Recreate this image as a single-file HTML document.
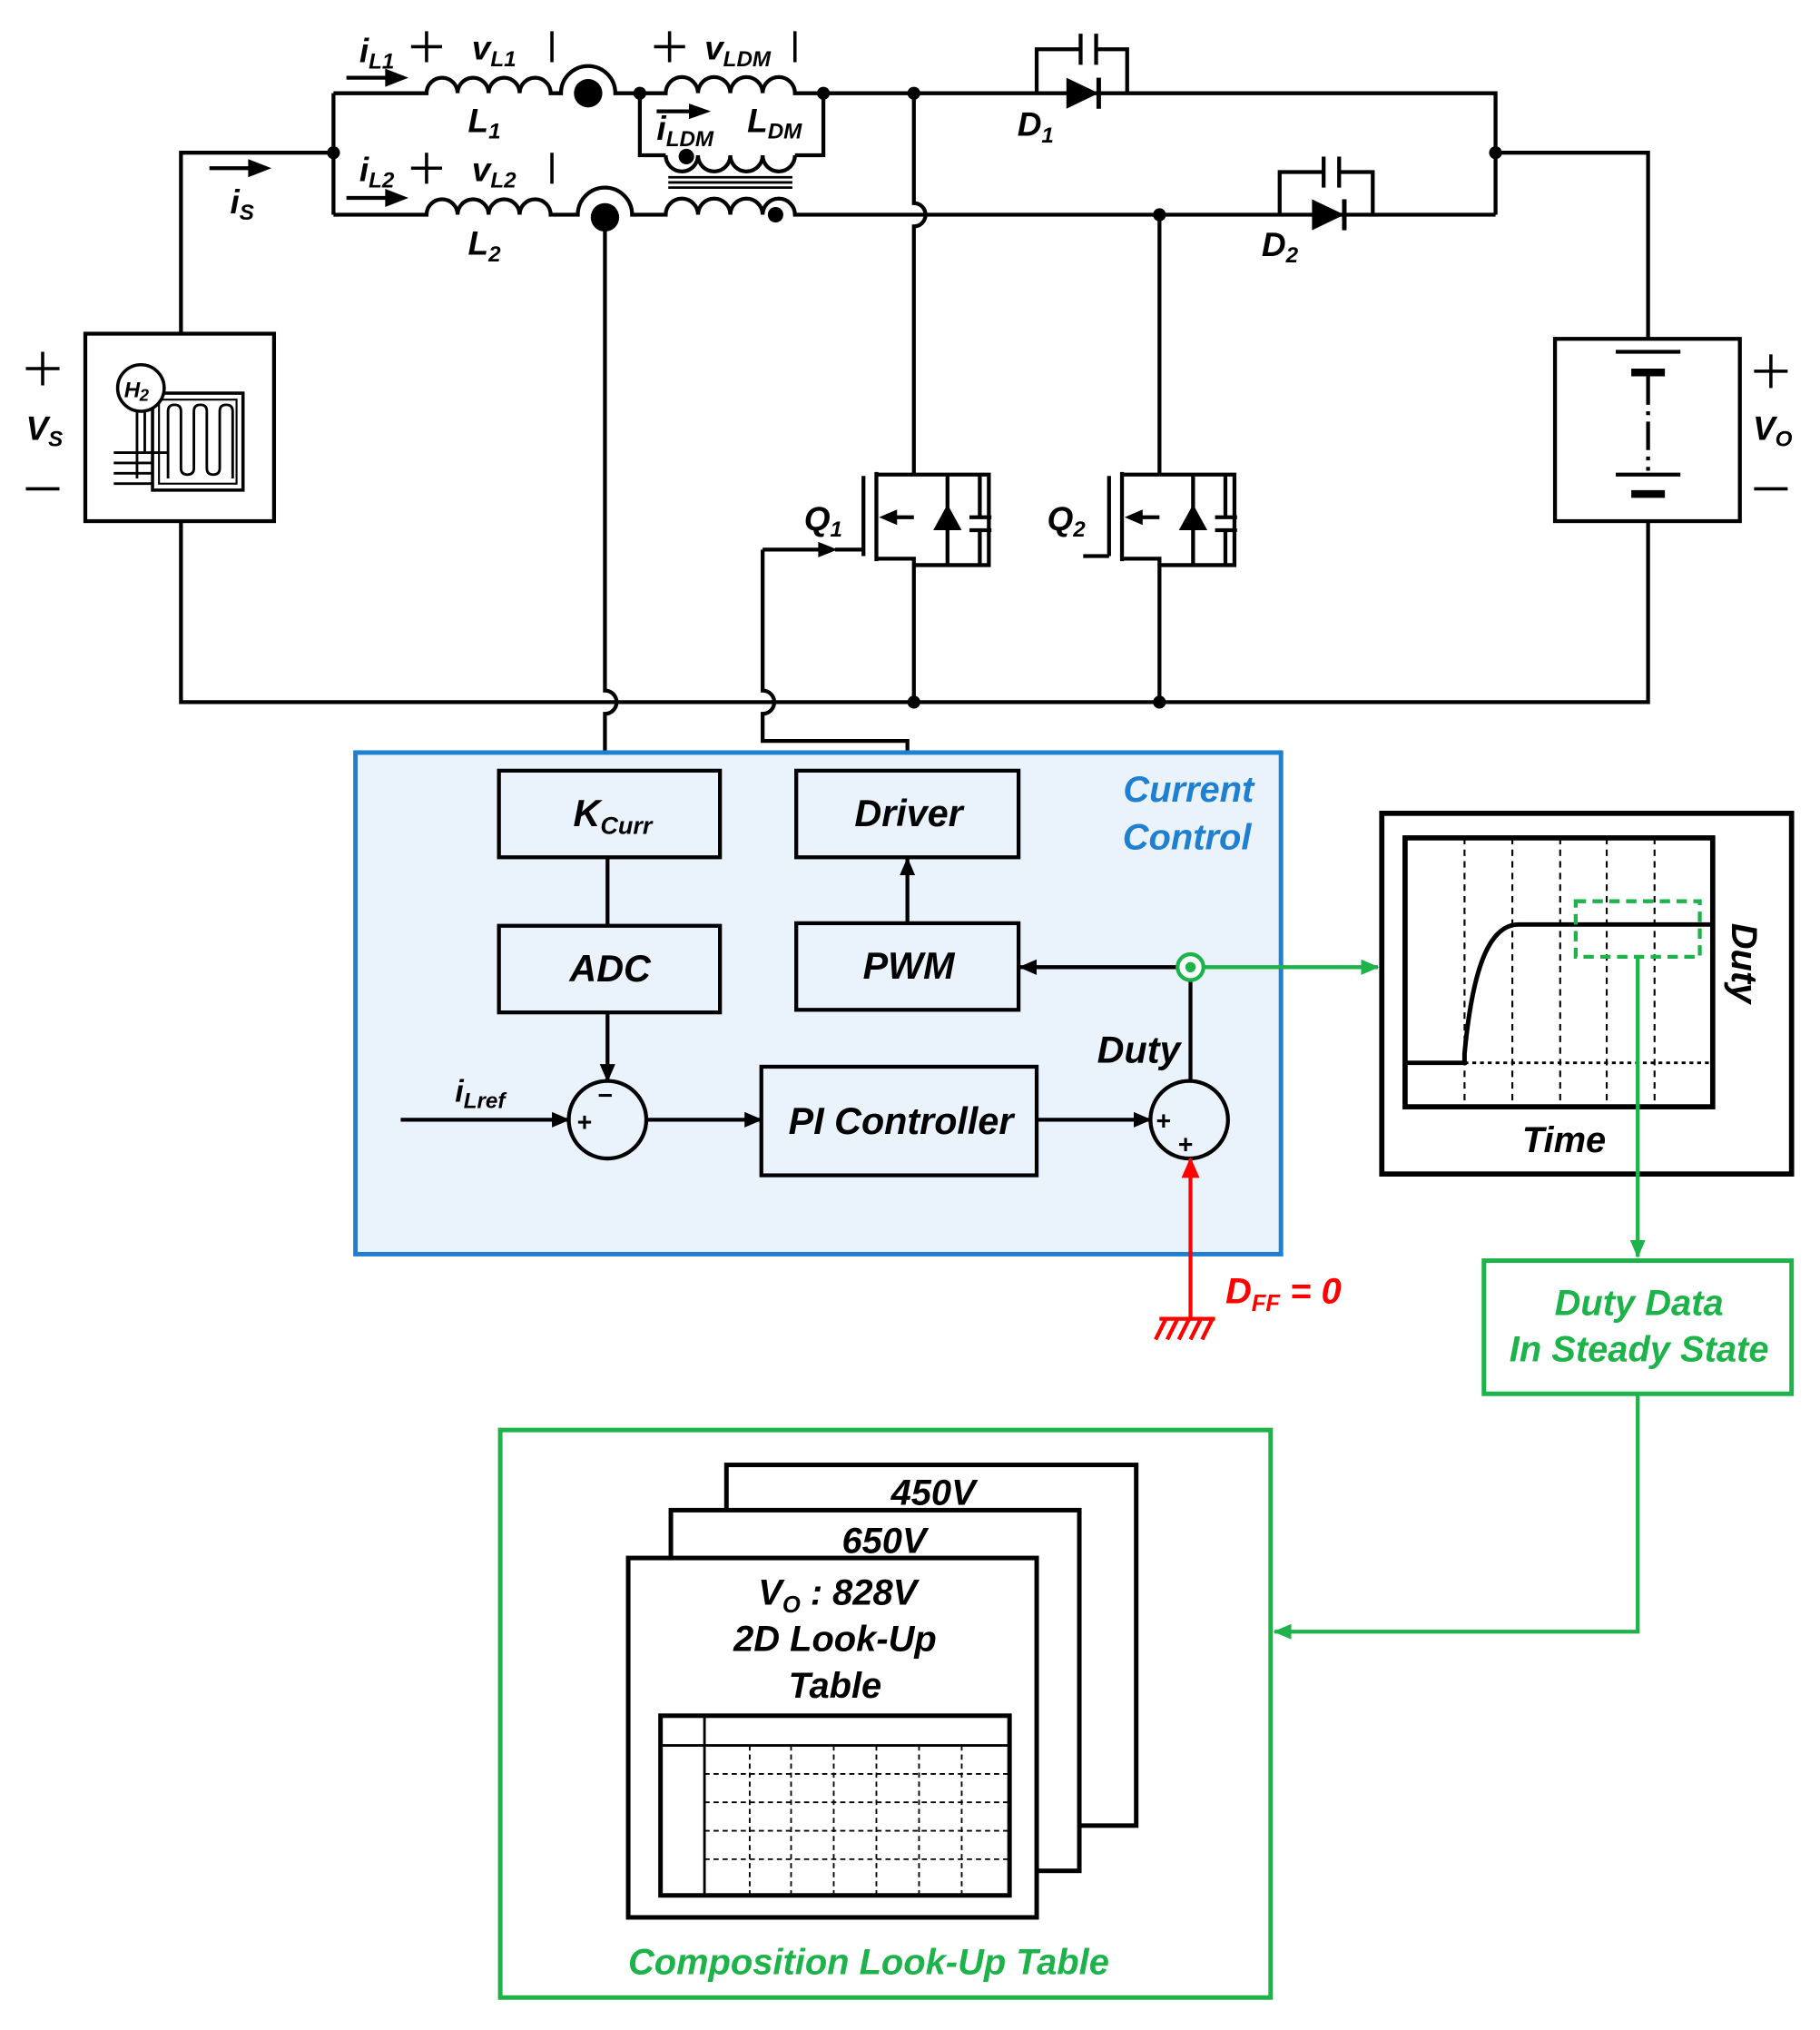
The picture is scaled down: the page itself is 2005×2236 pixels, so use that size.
<!DOCTYPE html>
<html><head><meta charset="utf-8"><style>
html,body{margin:0;padding:0;background:#fff}
svg{display:block}
text{font-family:"Liberation Sans",Arial,sans-serif;font-weight:bold;font-style:italic}
</style></head><body>
<svg width="2005" height="2236" viewBox="0 0 1408 1570" xmlns="http://www.w3.org/2000/svg">
<defs>
<marker id="ab" markerWidth="14" markerHeight="12" refX="13" refY="6" orient="auto" markerUnits="userSpaceOnUse"><path d="M0,0 L14,6 L0,12 z" fill="#000"/></marker>
<marker id="ag" markerWidth="14" markerHeight="12" refX="13" refY="6" orient="auto" markerUnits="userSpaceOnUse"><path d="M0,0 L14,6 L0,12 z" fill="#1db34a"/></marker>
<marker id="ar" markerWidth="16" markerHeight="14" refX="15" refY="7" orient="auto" markerUnits="userSpaceOnUse"><path d="M0,0 L16,7 L0,14 z" fill="#f00"/></marker>
</defs>
<g fill="none" stroke="#000" stroke-width="3">
<path d="M140,258 V118 H258"/>
<path d="M258,72 V166"/>
<path d="M258,72 H330 a12,12 0 0 1 24,0 a12,12 0 0 1 24,0 a12,12 0 0 1 24,0 a12,12 0 0 1 24,0 H434 a21,21 0 0 1 42,0 H515 a12.5,12.5 0 0 1 25,0 a12.5,12.5 0 0 1 25,0 a12.5,12.5 0 0 1 25,0 a12.5,12.5 0 0 1 25,0 H1157 V166"/>
<path d="M495,72 V120 H515 M615,120 H637 V72"/>
<path d="M515,120 a12.5,12.5 0 0 0 25,0 a12.5,12.5 0 0 0 25,0 a12.5,12.5 0 0 0 25,0 a12.5,12.5 0 0 0 25,0"/>
<path d="M517,137 H613 M517,141 H613 M517,145 H613" stroke-width="2"/>
<path d="M258,166 H330 a12,12 0 0 1 24,0 a12,12 0 0 1 24,0 a12,12 0 0 1 24,0 a12,12 0 0 1 24,0 H447 a21,21 0 0 1 42,0 H515 a12.5,12.5 0 0 1 25,0 a12.5,12.5 0 0 1 25,0 a12.5,12.5 0 0 1 25,0 a12.5,12.5 0 0 1 25,0 H1157"/>
<path d="M1157,118 H1275 V262"/>
<path d="M140,403 V543 H1275 V403"/>
<path d="M468,166 V534 a9,9 0 0 1 0,18 V596"/>
<path d="M707,72 V157 a9,9 0 0 1 0,18 V367"/>
<path d="M897,166 V367"/>
<path d="M268,60 H300 M268,153 H300 M162,130 H194 M508,86 H535"/>
<!-- D1 -->
<path d="M802,72 V38 H835 M849,38 H872 V72"/>
<path d="M836,26 V50 M848,26 V50"/>
<path d="M850,60 V84" stroke-width="3.5"/>
<!-- D2 -->
<path d="M990,166 V133 H1023 M1037,133 H1062 V166"/>
<path d="M1024,121 V145 M1036,121 V145"/>
<path d="M1040,154 V178" stroke-width="3.5"/>
<rect x="66" y="258" width="146" height="145"/>
<rect x="1203" y="262" width="143" height="141"/>
<path d="M1250,272 H1300 M1250,367 H1300" />
<path d="M1262,288 H1288 M1262,382 H1288" stroke-width="6"/>
<path d="M1275,291 V364" stroke-dasharray="22,5,3,5"/>
<!-- Q1 -->
<path d="M668,368 V430 M678,365 V434"/>
<path d="M678,367 H707 M678,432 H707 V543 M707,400 H692"/>
<path d="M707,367 H765 V437 H707 M733,367 V437 M750,400 H767 M750,410 H767 M758,367 V400 M758,410 V437"/>
<path d="M590,425 H635 M646,425 H668"/>
<path d="M590,425 V534 a9,9 0 0 1 0,18 V573 H702 V596"/>
<!-- Q2 -->
<path d="M858,368 V430 M868,365 V434 M838,430 H858"/>
<path d="M868,367 H897 M868,432 H897 V543 M897,400 H882"/>
<path d="M897,367 H955 V437 H897 M923,367 V437 M940,400 H957 M940,410 H957 M948,367 V400 M948,410 V437"/>
</g>
<g fill="#000">
<path d="M298,53 L316,60 L298,67 z M298,146 L316,153 L298,160 z M192,123 L210,130 L192,137 z M533,80 L550,86 L533,92 z M633,419 L648,425 L633,431 z"/>
<circle cx="258" cy="118" r="5"/><circle cx="455" cy="72" r="11"/><circle cx="468" cy="168" r="11"/>
<circle cx="495" cy="72" r="5"/><circle cx="637" cy="72" r="5"/><circle cx="531" cy="121" r="6"/><circle cx="600" cy="166" r="6"/>
<circle cx="707" cy="72" r="5"/><circle cx="897" cy="166" r="5"/><circle cx="1157" cy="118" r="5"/>
<circle cx="707" cy="543" r="5"/><circle cx="897" cy="543" r="5"/>
<path d="M825,60 L850,72 L825,84 z"/><path d="M1015,154 L1040,166 L1015,178 z"/>
<path d="M733,390 L722,410 L744,410 z M680,400 l14,-6 v12 z"/>
<path d="M923,390 L912,410 L934,410 z M870,400 l14,-6 v12 z"/>
</g>
<!-- fuel cell icon -->
<g fill="none" stroke="#000" stroke-width="2.5">
<rect x="118" y="304" width="70" height="75"/>
<rect x="123" y="309" width="60" height="65" stroke-width="1.5"/>
<path d="M130,370 V318 q0,-5 5,-5 q5,0 5,5 V362 q0,5 5,5 q5,0 5,-5 V318 q0,-5 5,-5 q5,0 5,5 V362 q0,5 5,5 q5,0 5,-5 V318 q0,-5 5,-5 q5,0 5,5 V370" stroke-width="2"/>
<path d="M106,318 V370 M112,318 V350 M88,350 H130 M88,358 H118 M88,366 H118 M88,374 H118" stroke-width="2"/>
<circle cx="109" cy="300" r="18" fill="#fff"/>
</g>
<text x="96" y="307" font-size="17" font-style="normal">H</text><text x="108" y="310" font-size="13" font-style="normal">2</text>
<g font-size="26" fill="#000">
<text x="278" y="48">i<tspan font-size="17" dy="5">L1</tspan></text>
<text x="278" y="140">i<tspan font-size="17" dy="5">L2</tspan></text>
<text x="178" y="165">i<tspan font-size="17" dy="5">S</tspan></text>
<text x="365" y="46">v<tspan font-size="17" dy="5">L1</tspan></text>
<text x="365" y="140">v<tspan font-size="17" dy="5">L2</tspan></text>
<text x="545" y="46">v<tspan font-size="17" dy="5">LDM</tspan></text>
<text x="508" y="108">i<tspan font-size="17" dy="5">LDM</tspan></text>
<text x="578" y="102">L<tspan font-size="17" dy="5">DM</tspan></text>
<text x="362" y="102">L<tspan font-size="17" dy="5">1</tspan></text>
<text x="362" y="197">L<tspan font-size="17" dy="5">2</tspan></text>
<text x="787" y="105">D<tspan font-size="17" dy="5">1</tspan></text>
<text x="976" y="198">D<tspan font-size="17" dy="5">2</tspan></text>
<text x="622" y="410">Q<tspan font-size="17" dy="5">1</tspan></text>
<text x="810" y="410">Q<tspan font-size="17" dy="5">2</tspan></text>
<text x="20" y="340">V<tspan font-size="17" dy="5">S</tspan></text>
<text x="1356" y="340">V<tspan font-size="17" dy="5">O</tspan></text>
</g>
<g stroke="#000" stroke-width="2.5">
<path d="M318,36 H342 M330,24 V48 M318,130 H342 M330,118 V142 M506,36 H530 M518,24 V48"/>
<path d="M427,24 V48 M427,118 V142 M615,24 V48"/>
<path d="M20,285 H46 M33,272 V298 M20,378 H46"/>
<path d="M1357,287 H1383 M1370,274 V300 M1357,378 H1383"/>
</g>
<rect x="275" y="582" width="716" height="388" fill="#eaf3fb" stroke="#1f7fd0" stroke-width="3.5"/>
<g fill="none" stroke="#000" stroke-width="3">
<rect x="386" y="596" width="171" height="67"/><rect x="616" y="596" width="172" height="67"/>
<rect x="386" y="716" width="171" height="67"/><rect x="616" y="714" width="172" height="67"/>
<rect x="589" y="825" width="213" height="84"/>
<circle cx="470" cy="866" r="30"/><circle cx="920" cy="866" r="30"/>
<path d="M470,663 V716"/>
<path d="M470,783 V836" marker-end="url(#ab)"/>
<path d="M310,866 H440" marker-end="url(#ab)"/>
<path d="M500,866 H589" marker-end="url(#ab)"/>
<path d="M802,866 H890" marker-end="url(#ab)"/>
<path d="M702,714 V664" marker-end="url(#ab)"/>
<path d="M911,748 H789" marker-end="url(#ab)"/>
<path d="M921,758 V836"/>
</g>
<g font-size="20" font-style="normal" fill="#000"><text x="446" y="875">+</text><text x="462" y="854">−</text><text x="894" y="874">+</text><text x="911" y="892">+</text></g>
<g font-size="29" fill="#000" text-anchor="middle">
<text x="474" y="639">K<tspan font-size="19" dy="6">Curr</tspan></text>
<text x="703" y="639">Driver</text>
<text x="472" y="759">ADC</text>
<text x="703" y="757">PWM</text>
<text x="697" y="877">PI Controller</text>
<text x="881" y="822">Duty</text>
</g>
<text x="352" y="852" font-size="24">i<tspan font-size="17" dy="5">Lref</tspan></text>
<g font-size="28" fill="#1f7fd0" text-anchor="end"><text x="970" y="620">Current</text><text x="968" y="657">Control</text></g>
<circle cx="921" cy="748" r="10" fill="#fff" stroke="#1db34a" stroke-width="3"/>
<circle cx="921" cy="748" r="4" fill="#1db34a"/>
<path d="M931,748 H1066" stroke="#1db34a" stroke-width="3" fill="none" marker-end="url(#ag)"/>
<path d="M921,1020 V896" stroke="#f00" stroke-width="3" fill="none" marker-end="url(#ar)"/>
<path d="M897,1020 H940 M902,1020 l-8,16 M911,1020 l-8,16 M920,1020 l-8,16 M929,1020 l-8,16 M938,1020 l-8,16" stroke="#f00" stroke-width="3"/>
<text x="948" y="1008" font-size="28" fill="#f00">D<tspan font-size="18" dy="6">FF</tspan><tspan dy="-6"> = 0</tspan></text>
<rect x="1069" y="629" width="317" height="279" fill="none" stroke="#000" stroke-width="4"/>
<rect x="1087" y="648" width="238" height="208" fill="none" stroke="#000" stroke-width="4"/>
<path d="M1133,648 V856 M1170,648 V856 M1207,648 V856 M1243,648 V856 M1280,648 V856" stroke="#000" stroke-width="1.5" stroke-dasharray="5,4"/>
<path d="M1133,822 H1325" stroke="#000" stroke-width="2" stroke-dasharray="3,3"/>
<path d="M1087,822 H1133 V815 C1140,740 1155,715 1175,715 H1325" stroke="#000" stroke-width="3.5" fill="none"/>
<rect x="1219" y="697" width="96" height="43" fill="none" stroke="#1db34a" stroke-width="3" stroke-dasharray="8,5"/>
<text x="1210" y="891" font-size="28" text-anchor="middle">Time</text>
<text transform="translate(1340,745) rotate(90)" font-size="28" text-anchor="middle">Duty</text>
<path d="M1267,740 V972" stroke="#1db34a" stroke-width="3" fill="none" marker-end="url(#ag)"/>
<rect x="1148" y="975" width="238" height="103" fill="none" stroke="#1db34a" stroke-width="3.5"/>
<g font-size="28" fill="#1db34a" text-anchor="middle"><text x="1268" y="1017">Duty Data</text><text x="1268" y="1053">In Steady State</text></g>
<path d="M1267,1078 V1262 H986" stroke="#1db34a" stroke-width="3" fill="none" marker-end="url(#ag)"/>
<rect x="387" y="1106" width="596" height="439" fill="none" stroke="#1db34a" stroke-width="3.5"/>
<text x="672" y="1527" font-size="28" fill="#1db34a" text-anchor="middle">Composition Look-Up Table</text>
<g stroke="#000" stroke-width="3.5" fill="#fff">
<rect x="562" y="1133" width="317" height="279"/>
<rect x="519" y="1168" width="316" height="279"/>
<rect x="486" y="1205" width="316" height="278"/>
<rect x="511" y="1327" width="270" height="139"/>
</g>
<path d="M511,1350 H781 M545,1327 V1466" stroke="#000" stroke-width="2"/>
<path d="M545,1372 H781 M545,1394 H781 M545,1416 H781 M545,1438 H781 M580,1350 V1466 M612,1350 V1466 M645,1350 V1466 M678,1350 V1466 M711,1350 V1466 M744,1350 V1466" stroke="#000" stroke-width="1.3" stroke-dasharray="4,3"/>
<g font-size="28" fill="#000" text-anchor="middle">
<text x="722" y="1164">450V</text><text x="684" y="1201">650V</text>
<text x="648" y="1241">V<tspan font-size="18" dy="6">O</tspan><tspan dy="-6"> : 828V</tspan></text>
<text x="646" y="1277">2D Look-Up</text><text x="646" y="1313">Table</text>
</g>
</svg>
</body></html>
